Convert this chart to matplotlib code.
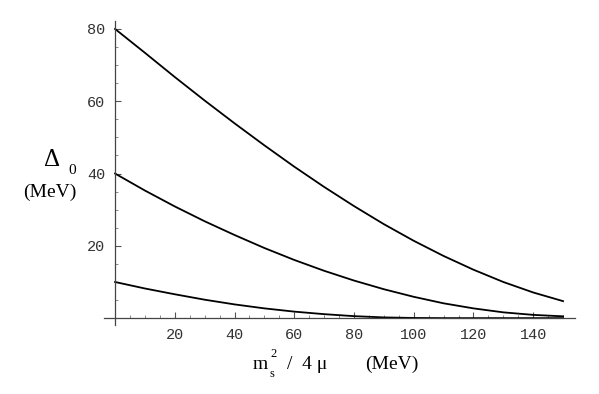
import matplotlib

matplotlib.use("Agg")
import matplotlib.pyplot as plt
from matplotlib.ticker import MultipleLocator

# m_s^2 / 4mu (MeV) sample points and gap values
x_vals = [0, 10, 20, 30, 40, 50, 60, 70, 80, 90, 100, 110, 120, 130, 140, 150]
gap_80 = [80, 73.4, 66.7, 60.2, 53.9, 47.8, 41.9, 36.3, 31.0, 26.0, 21.4, 17.2, 13.4, 10.0, 7.1, 4.7]
gap_40 = [40, 35.3, 30.9, 26.8, 23.0, 19.4, 16.1, 13.1, 10.4, 8.0, 5.9, 4.1, 2.7, 1.6, 0.9, 0.5]
gap_10 = [10, 8.2, 6.6, 5.1, 3.8, 2.7, 1.8, 1.1, 0.55, 0.2, 0.05, 0, 0, 0, 0, 0]

x_ticks = [20, 40, 60, 80, 100, 120, 140]
y_ticks = [20, 40, 60, 80]

W, H = 599, 394
fig = plt.figure(figsize=(W / 100, H / 100), dpi=100)
ax = fig.add_axes([104 / W, 1 - 325 / H, (575 - 104) / W, (325 - 21) / H])

for series in (gap_80, gap_40, gap_10):
    ax.plot(x_vals, series, color="black", lw=1.3, solid_joinstyle="round")

ax.set_xlim(-3.7, 154)
ax.set_ylim(-1.9, 82.2)

for side in ("top", "right"):
    ax.spines[side].set_visible(False)
for side in ("left", "bottom"):
    ax.spines[side].set_position(("data", 0))
    ax.spines[side].set_color("#444444")
    ax.spines[side].set_linewidth(0.9)

ax.set_xticks(x_ticks)
ax.set_yticks(y_ticks)
ax.xaxis.set_minor_locator(MultipleLocator(5))
ax.yaxis.set_minor_locator(MultipleLocator(5))
ax.tick_params(which="major", direction="in", length=4, width=0.8, color="#555555",
               labelsize=11, labelcolor="#333333", pad=7)
ax.tick_params(which="minor", direction="in", length=2.5, width=0.6, color="#777777")
for lab in ax.get_xticklabels() + ax.get_yticklabels():
    lab.set_family("Liberation Mono")

serif = "Liberation Serif"


def px(x, y):
    return x / W, 1 - y / H


# y axis label: Delta_0 (MeV)
fig.text(*px(52, 166), "\u0394", family=serif, fontsize=18, ha="center", va="baseline")
fig.text(*px(72, 174), "0", family=serif, fontsize=11, ha="center", va="baseline")
fig.text(*px(50, 197), "(MeV)", family=serif, fontsize=14, ha="center", va="baseline")

# x axis label: m_s^2 / 4 mu   (MeV)
fig.text(*px(253, 369), "m", family=serif, fontsize=14, ha="left", va="baseline")
fig.text(*px(270, 357), "2", family=serif, fontsize=9, ha="left", va="baseline")
fig.text(*px(270, 377), "s", family=serif, fontsize=9, ha="left", va="baseline")
fig.text(*px(287, 369), "/  4 \u03bc", family=serif, fontsize=14, ha="left", va="baseline")
fig.text(*px(365, 369), "(MeV)", family=serif, fontsize=14, ha="left", va="baseline")

fig.savefig("out.png", dpi=100)
